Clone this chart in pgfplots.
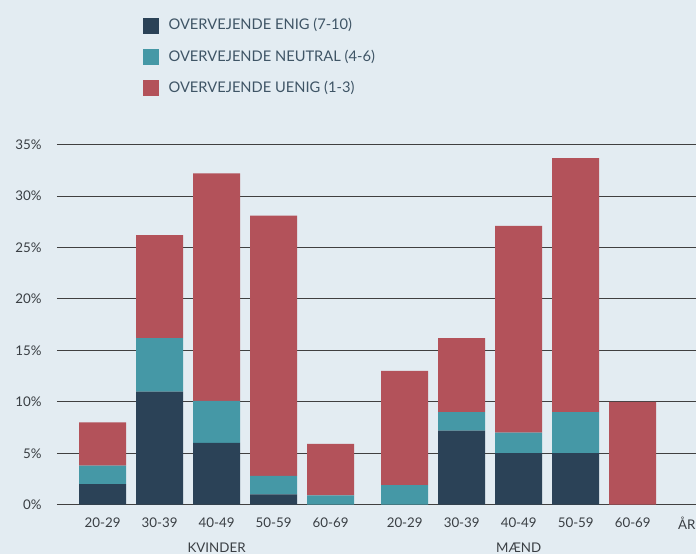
\documentclass[border=0pt]{standalone}
\usepackage{pgfplots}
\usepackage{pgfplotstable}
\pgfplotsset{compat=1.18}
\usepackage{fontspec}
\setmainfont{Lato}

\definecolor{bg}{HTML}{E3ECF2}
\definecolor{enig}{HTML}{2B4257}
\definecolor{neutral}{HTML}{4598A6}
\definecolor{uenig}{HTML}{B3525A}
\definecolor{txt}{HTML}{3A3F44}
\definecolor{legtxt}{HTML}{3F5566}

% age groups: women at 0..4, men at 5.3..9.3
\pgfplotstableread{
x   enig neutral uenig
0   2    1.8     4.2
1   11   5.2     10
2   6    4.1     22.1
3   1    1.8     25.3
4   0    0.9     5
5.3 0    1.9     11.1
6.3 7.2  1.8     7.2
7.3 5    2       20.1
8.3 5    4       24.7
9.3 0    0       10
}\data

\begin{document}
\begin{tikzpicture}
\fill[bg] (-42.75pt,-37pt) rectangle (479.25pt,378.5pt);
\begin{axis}[
    at={(0,0)}, anchor=south west,
    scale only axis,
    width=479.25pt, height=270pt,
    clip=false,
    ybar stacked,
    bar width=0.825,
    xmin=-0.8, xmax=10.41,
    ymin=0, ymax=35,
    ytick={0,5,...,35},
    yticklabel={\pgfmathprintnumber{\tick}\%},
    xtick={0,1,2,3,4,5.3,6.3,7.3,8.3,9.3,10.25},
    xticklabels={20-29,30-39,40-49,50-59,60-69,20-29,30-39,40-49,50-59,60-69,ÅR},
    major tick length=0pt,
    axis line style={draw=none},
    ymajorgrids,
    grid style={draw=black!75, line width=0.8pt},
    tick label style={font=\fontsize{10}{12}\selectfont, text=txt},
    /pgf/number format/assume math mode=true,
    yticklabel style={xshift=-8pt},
    xticklabel style={yshift=-6pt},
    legend cell align=left,
    legend style={draw=none, fill=none, inner sep=0pt,
        at={(axis description cs:0.1346,1.357)}, anchor=north west,
        font=\fontsize{11}{13}\selectfont, text=legtxt,
        nodes={text height=8pt, text depth=2pt},
        row sep=9.5pt,
        /tikz/every odd column/.append style={column sep=5pt}},
    legend image code/.code={\fill[#1] (0pt,-6pt) rectangle (12pt,6pt);},
]
\addplot[fill=enig, draw=none] table[x=x, y=enig] {\data};
\addplot[fill=neutral, draw=none] table[x=x, y=neutral] {\data};
\addplot[fill=uenig, draw=none] table[x=x, y=uenig] {\data};
\legend{OVERVEJENDE ENIG (7-10), OVERVEJENDE NEUTRAL (4-6), OVERVEJENDE UENIG (1-3)}
\node[font=\fontsize{10}{12}\selectfont, text=txt] at (axis cs:2,0) [yshift=-32pt] {KVINDER};
\node[font=\fontsize{10}{12}\selectfont, text=txt] at (axis cs:7.3,0) [yshift=-32pt] {MÆND};
\end{axis}
\pgfresetboundingbox
\path[use as bounding box] (-42.75pt,-37pt) rectangle (479.25pt,378.5pt);
\end{tikzpicture}
\end{document}
